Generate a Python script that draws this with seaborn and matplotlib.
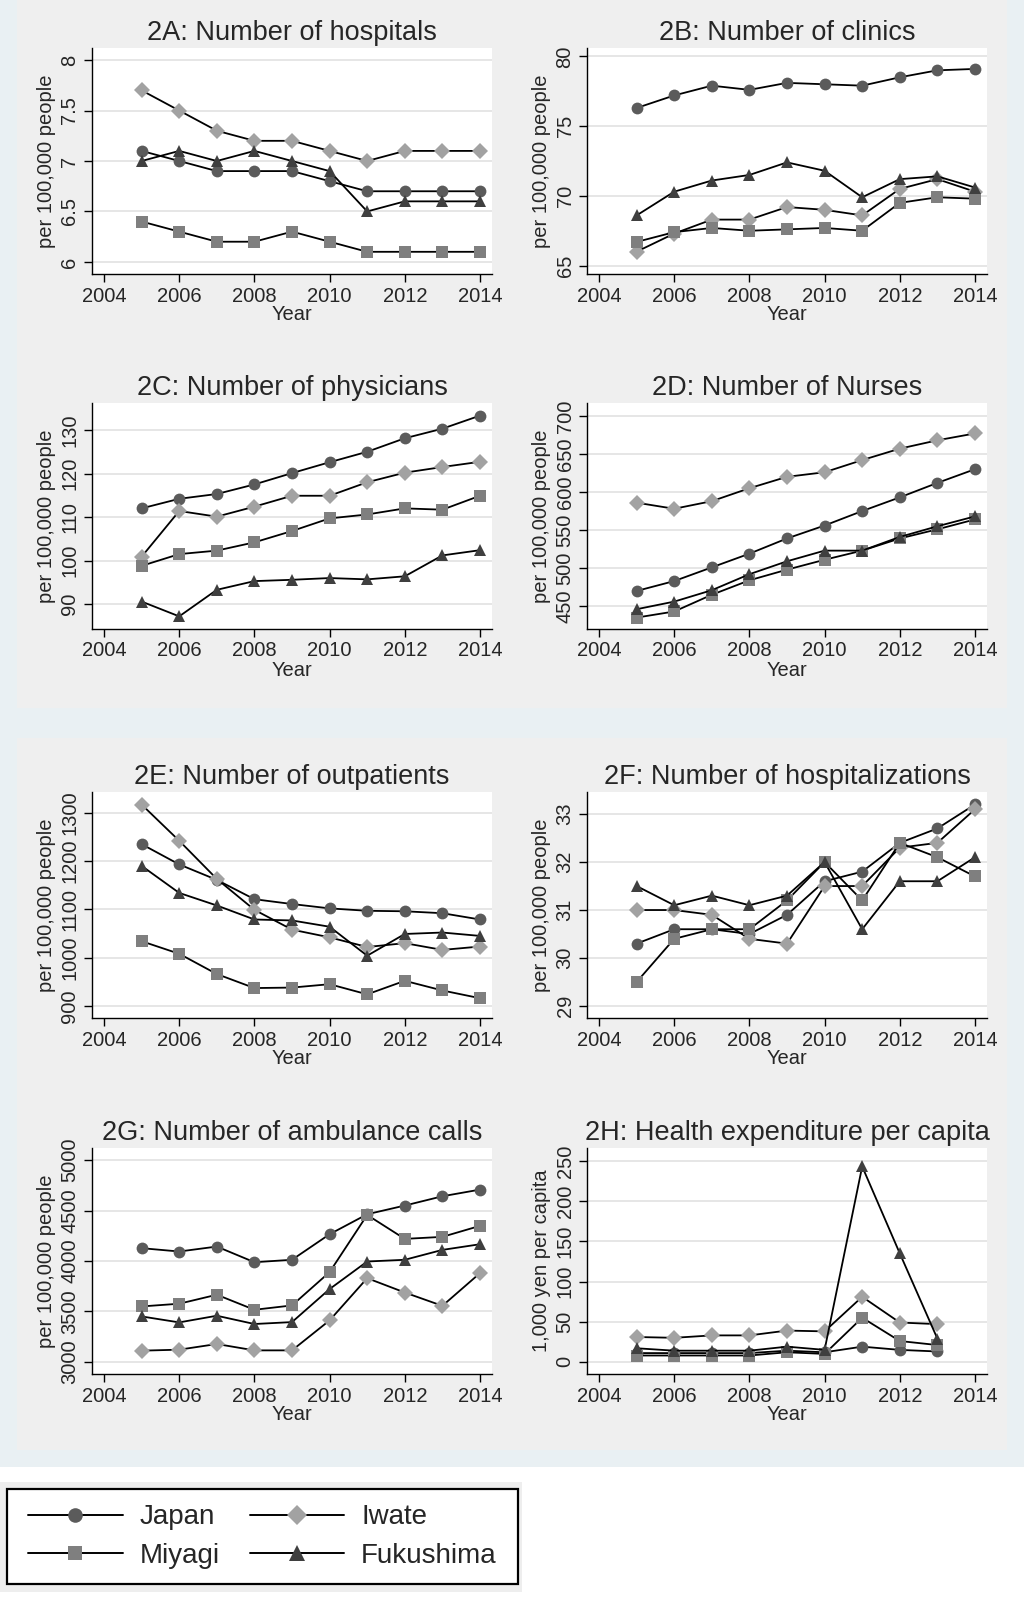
import matplotlib
matplotlib.use("Agg")
import matplotlib.pyplot as plt
from matplotlib.lines import Line2D
from matplotlib.patches import Rectangle
from matplotlib.ticker import FuncFormatter
import seaborn as sns

# ---------------------------------------------------------------------
# DATA
# ---------------------------------------------------------------------
years = [2005, 2006, 2007, 2008, 2009, 2010, 2011, 2012, 2013, 2014]
years_exp = years[:9]

# 2A: hospitals
hosp_japan = [7.1, 7.0, 6.9, 6.9, 6.9, 6.8, 6.7, 6.7, 6.7, 6.7]
hosp_iwate = [7.7, 7.5, 7.3, 7.2, 7.2, 7.1, 7.0, 7.1, 7.1, 7.1]
hosp_miyagi = [6.4, 6.3, 6.2, 6.2, 6.3, 6.2, 6.1, 6.1, 6.1, 6.1]
hosp_fukushima = [7.0, 7.1, 7.0, 7.1, 7.0, 6.9, 6.5, 6.6, 6.6, 6.6]

# 2B: clinics
clin_japan = [76.3, 77.2, 77.9, 77.6, 78.1, 78.0, 77.9, 78.5, 79.0, 79.1]
clin_iwate = [66.0, 67.3, 68.3, 68.3, 69.2, 69.0, 68.6, 70.5, 71.2, 70.3]
clin_miyagi = [66.7, 67.4, 67.7, 67.5, 67.6, 67.7, 67.5, 69.5, 69.9, 69.8]
clin_fukushima = [68.6, 70.3, 71.1, 71.5, 72.4, 71.8, 69.9, 71.2, 71.4, 70.6]

# 2C: physicians
phys_japan = [112.0, 114.2, 115.3, 117.5, 120.1, 122.6, 125.0, 128.1, 130.3, 133.3]
phys_iwate = [100.9, 111.4, 110.1, 112.4, 114.9, 114.9, 118.0, 120.2, 121.5, 122.7]
phys_miyagi = [98.8, 101.5, 102.3, 104.2, 106.8, 109.7, 110.6, 112.0, 111.7, 114.9]
phys_fukushima = [90.6, 87.2, 93.3, 95.3, 95.6, 96.0, 95.7, 96.4, 101.2, 102.4]

# 2D: nurses
nurse_japan = [470, 483, 501, 519, 539, 556, 575, 593, 612, 630]
nurse_iwate = [586, 578, 588, 605, 620, 626, 642, 657, 668, 677]
nurse_miyagi = [435, 443, 465, 484, 498, 511, 523, 539, 551, 564]
nurse_fukushima = [446, 456, 471, 492, 509, 523, 523, 541, 555, 568]

# 2E: outpatients
outp_japan = [1235, 1193, 1161, 1121, 1111, 1102, 1097, 1096, 1092, 1079]
outp_iwate = [1317, 1242, 1163, 1099, 1058, 1042, 1022, 1030, 1016, 1023]
outp_miyagi = [1034, 1008, 966, 937, 938, 945, 924, 952, 932, 916]
outp_fukushima = [1190, 1134, 1108, 1079, 1077, 1064, 1004, 1049, 1052, 1045]

# 2F: hospitalizations
hosz_japan = [30.3, 30.6, 30.6, 30.5, 30.9, 31.6, 31.8, 32.4, 32.7, 33.2]
hosz_iwate = [31.0, 31.0, 30.9, 30.4, 30.3, 31.5, 31.5, 32.3, 32.4, 33.1]
hosz_miyagi = [29.5, 30.4, 30.6, 30.6, 31.2, 32.0, 31.2, 32.4, 32.1, 31.7]
hosz_fukushima = [31.5, 31.1, 31.3, 31.1, 31.3, 32.0, 30.6, 31.6, 31.6, 32.1]

# 2G: ambulance calls
amb_japan = [4127, 4094, 4143, 3988, 4012, 4265, 4463, 4549, 4641, 4707]
amb_iwate = [3112, 3122, 3178, 3115, 3115, 3412, 3830, 3688, 3556, 3880]
amb_miyagi = [3550, 3577, 3666, 3517, 3560, 3890, 4456, 4219, 4239, 4348]
amb_fukushima = [3451, 3392, 3458, 3376, 3395, 3722, 3995, 4012, 4110, 4166]

# 2H: health expenditure per capita (2005-2013)
exp_japan = [11, 11, 11, 11, 14, 12, 19, 15, 13]
exp_iwate = [31, 30, 33, 33, 39, 38, 81, 49, 47]
exp_miyagi = [8, 8, 8, 8, 12, 10, 55, 26, 21]
exp_fukushima = [17, 14, 14, 14, 19, 15, 243, 135, 29]

regions = ["Japan", "Iwate", "Miyagi", "Fukushima"]
marker_of = {"Japan": "o", "Iwate": "D", "Miyagi": "s", "Fukushima": "^"}
color_of = {"Japan": "#5b5b5b", "Iwate": "#a2a2a2", "Miyagi": "#7f7f7f", "Fukushima": "#3f3f3f"}
size_of = {"Japan": 8.5, "Iwate": 8, "Miyagi": 8.5, "Fukushima": 9}

ylabel_main = "per 100,000 people"
panels = [
    ("2A: Number of hospitals", years,
     [hosp_japan, hosp_iwate, hosp_miyagi, hosp_fukushima],
     [6, 6.5, 7, 7.5, 8], (5.88, 8.12), ylabel_main),
    ("2B: Number of clinics", years,
     [clin_japan, clin_iwate, clin_miyagi, clin_fukushima],
     [65, 70, 75, 80], (64.4, 80.6), ylabel_main),
    ("2C: Number of physicians", years,
     [phys_japan, phys_iwate, phys_miyagi, phys_fukushima],
     [90, 100, 110, 120, 130], (84.3, 136.2), ylabel_main),
    ("2D: Number of Nurses", years,
     [nurse_japan, nurse_iwate, nurse_miyagi, nurse_fukushima],
     [450, 500, 550, 600, 650, 700], (420, 717), ylabel_main),
    ("2E: Number of outpatients", years,
     [outp_japan, outp_iwate, outp_miyagi, outp_fukushima],
     [900, 1000, 1100, 1200, 1300], (875, 1343), ylabel_main),
    ("2F: Number of hospitalizations", years,
     [hosz_japan, hosz_iwate, hosz_miyagi, hosz_fukushima],
     [29, 30, 31, 32, 33], (28.75, 33.46), ylabel_main),
    ("2G: Number of ambulance calls", years,
     [amb_japan, amb_iwate, amb_miyagi, amb_fukushima],
     [3000, 3500, 4000, 4500, 5000], (2881, 5119), ylabel_main),
    ("2H: Health expenditure per capita", years_exp,
     [exp_japan, exp_iwate, exp_miyagi, exp_fukushima],
     [0, 50, 100, 150, 200, 250], (-15, 266), "1,000 yen per capita"),
]

# ---------------------------------------------------------------------
# FIGURE
# ---------------------------------------------------------------------
sns.set_style("ticks")
plt.rcParams["font.family"] = ["Liberation Sans", "DejaVu Sans"]

W, H = 1024, 1607
fig = plt.figure(figsize=(W / 100, H / 100), dpi=100)
fig.patch.set_facecolor("white")


def add_box(x0, y0, x1, y1, face, edge="none", lw=0, z=-5):
    fig.add_artist(Rectangle((x0 / W, 1 - y1 / H), (x1 - x0) / W, (y1 - y0) / H,
                             transform=fig.transFigure, facecolor=face,
                             edgecolor=edge, linewidth=lw, zorder=z))


# Stata-like graph regions
add_box(0, 0, W, 1467, "#e9f0f3", z=-10)
add_box(17, 0, 1007, 708, "#efefef", z=-9)
add_box(17, 738, 1007, 1450, "#efefef", z=-9)

col_left = [92, 587]
row_top = [48, 403, 792, 1148]
aw, ah = 400, 226

for i, (title, xs, series, yticks, ylim, ylab) in enumerate(panels):
    r, c = divmod(i, 2)
    ax = fig.add_axes([col_left[c] / W, 1 - (row_top[r] + ah) / H, aw / W, ah / H])
    ax.set_facecolor("white")
    for name, vals in zip(regions, series):
        sns.lineplot(x=xs, y=vals, ax=ax, color="black", linewidth=1.3,
                     marker=marker_of[name], markersize=size_of[name],
                     markerfacecolor=color_of[name], markeredgecolor=color_of[name],
                     markeredgewidth=0)
    ax.set_xlim(2003.68, 2014.32)
    ax.set_xticks(range(2004, 2015, 2))
    ax.set_ylim(*ylim)
    ax.set_yticks(yticks)
    ax.yaxis.set_major_formatter(FuncFormatter(lambda v, p: f"{v:g}"))
    ax.yaxis.grid(True, color="#e4e4e4", linewidth=1.3)
    ax.set_axisbelow(True)
    sns.despine(ax=ax)
    for sp in ["left", "bottom"]:
        ax.spines[sp].set_color("black")
        ax.spines[sp].set_linewidth(1.0)
    ax.tick_params(axis="both", direction="out", length=6, width=1.0,
                   color="black", labelsize=14.5, pad=3)
    ax.tick_params(axis="y", labelrotation=90)
    plt.setp(ax.get_yticklabels(), va="center")
    ax.set_title(title, fontsize=19.5, pad=6)
    ax.set_xlabel("Year", fontsize=14.5, labelpad=0)
    ax.set_ylabel(ylab, fontsize=14.5, labelpad=3)

# Legend
add_box(0, 1482, 522, 1592, "#eeeeee", z=-5)
add_box(7, 1489, 518, 1584, "white", edge="black", lw=1.6, z=-4)
handles = {name: Line2D([], [], color="black", linewidth=1.4, marker=marker_of[name],
                        markersize=size_of[name] + 2, markerfacecolor=color_of[name],
                        markeredgewidth=0)
           for name in regions}
order = ["Japan", "Miyagi", "Iwate", "Fukushima"]
fig.legend([handles[n] for n in order], order, loc="center",
           bbox_to_anchor=((7 + 518) / 2 / W, 1 - (1489 + 1584) / 2 / H),
           ncol=2, frameon=False, fontsize=20, handlelength=3.4,
           handletextpad=0.6, columnspacing=1.1, labelspacing=0.45)

fig.savefig("out.png", dpi=100)
